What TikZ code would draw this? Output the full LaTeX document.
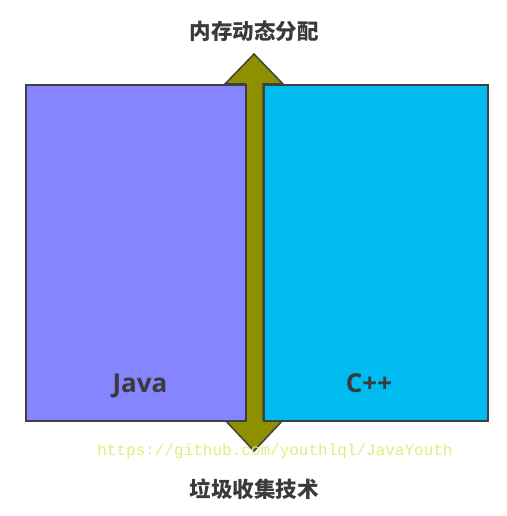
\documentclass[tikz,border=0pt]{standalone}
\usepackage{fontspec}
\setmainfont{Open Sans}
\newfontfamily\cjk{Noto Sans CJK SC}
\newfontfamily\mono{Liberation Mono}
\definecolor{boxleft}{HTML}{8585FF}
\definecolor{boxright}{HTML}{00BBF0}
\definecolor{olivearrow}{HTML}{8F9000}
\definecolor{edgegray}{HTML}{404040}
\definecolor{wmark}{HTML}{D8F27A}
\definecolor{txtgray}{HTML}{3A3A3A}
\begin{document}
\begin{tikzpicture}[x=1pt,y=-1pt,
  panel/.style={draw=edgegray,line width=2pt},
  title/.style={font=\cjk\bfseries\fontsize{21.5}{23}\selectfont,text=txtgray},
  lang/.style={font=\bfseries\fontsize{26}{28}\selectfont,text=txtgray}]
\useasboundingbox (0,0) rectangle (506,516);
% double arrow
\draw[draw=edgegray,line width=1.5pt,fill=olivearrow,line join=miter]
  (245,84) -- (225,84) -- (254,54) -- (283,84) -- (263,84)
  -- (263,420) -- (283,420) -- (254,451) -- (225,420) -- (245,420) -- cycle;
\node[panel,fill=boxleft,minimum width=220pt,minimum height=336pt,inner sep=0pt,anchor=north west] (java) at (25,84) {};
\node[panel,fill=boxright,minimum width=224pt,minimum height=336pt,inner sep=0pt,anchor=north west] (cpp) at (263,84) {};
\coordinate (atop) at (254,54);
\coordinate (abot) at (254,451);
\node[lang,anchor=base] (jl) at (140,392) {Java};
\node[lang,anchor=base] (cl) at (369,392) {C++};
\node[title] (t1) at (254,31) {内存动态分配};
\node[title] (t2) at (254,489) {垃圾收集技术};
\node[font=\mono\fontsize{16}{18}\selectfont,text=wmark] (wm) at (275,451) {https://github.com/youthlql/JavaYouth};
\end{tikzpicture}
\end{document}
